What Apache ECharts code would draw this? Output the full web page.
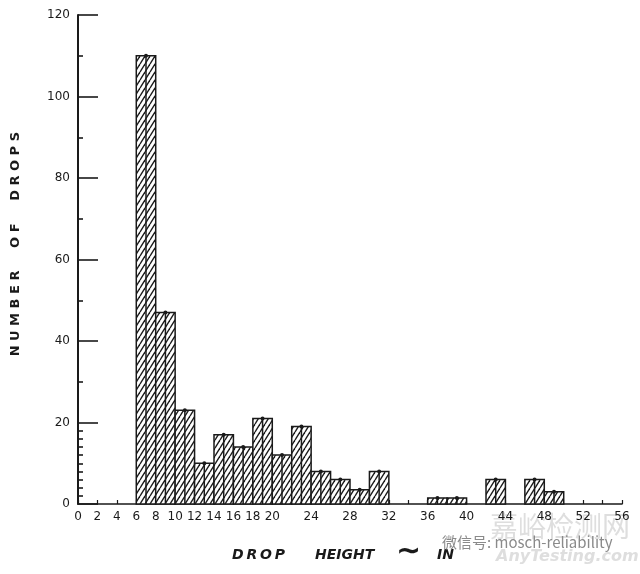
<!DOCTYPE html>
<html><head><meta charset="utf-8">
<script src="https://cdn.jsdelivr.net/npm/echarts@6/dist/echarts.min.js"></script>
<style>html,body{margin:0;padding:0;background:#fff}#c{width:640px;height:574px}</style>
</head><body><div id="c"></div>
<script>
// ---- data ----
const binStarts = [6, 8, 10, 12, 14, 16, 18, 20, 22, 24, 26, 28, 30, 36, 38, 42, 46, 48];
const binWidth = 2;
const dropCounts = [110, 47, 23, 10, 17, 14, 21, 12, 19, 8, 6, 3.5, 8, 1.5, 1.5, 6, 6, 3];
const xTickLabels = [0, 2, 4, 6, 8, 10, 12, 14, 16, 18, 20, 24, 28, 32, 36, 40, 44, 48, 52, 56];
const yMinorTicks = [2, 4, 6, 8, 10, 12, 14, 16, 18, 30, 50, 70, 90, 110];

function makePattern() {
  const W = 5, H = 8;
  const c = document.createElement('canvas');
  c.width = W; c.height = H;
  const g = c.getContext('2d');
  g.fillStyle = '#fff'; g.fillRect(0, 0, W, H);
  g.strokeStyle = '#1a1a1a'; g.lineWidth = 1.4;
  for (let k = -1; k <= 1; k++) {
    g.beginPath(); g.moveTo(k * W, H); g.lineTo(k * W + W, 0); g.stroke();
  }
  return c;
}
const pat = makePattern();
const barData = binStarts.map((s, i) => [s, s + binWidth, dropCounts[i]]);
const ink = '#1a1a1a';
const font = 'DejaVu Sans';

const chart = echarts.init(document.getElementById('c'), null, {renderer: 'canvas'});
chart.setOption({
  backgroundColor: '#fff',
  animation: false,
  grid: {left: 78, right: 18, top: 15, bottom: 70},
  xAxis: {
    type: 'value', min: 0, max: 56, interval: 2,
    axisLine: {show: true, lineStyle: {color: ink, width: 1.6}},
    axisTick: {show: true, inside: true, length: 4, lineStyle: {color: ink, width: 1.2}},
    axisLabel: {customValues: xTickLabels, color: ink, fontFamily: font, fontSize: 12, margin: 7},
    splitLine: {show: false}
  },
  yAxis: [{
    type: 'value', min: 0, max: 120, interval: 20,
    axisLine: {show: true, lineStyle: {color: ink, width: 2}},
    axisTick: {show: true, inside: true, length: 20, lineStyle: {color: ink, width: 1.6}},
    axisLabel: {color: ink, fontFamily: font, fontSize: 12, margin: 8},
    splitLine: {show: false}
  }, {
    type: 'value', min: 0, max: 120, position: 'left',
    axisLine: {show: false},
    axisTick: {show: true, inside: true, length: 5, customValues: yMinorTicks, lineStyle: {color: ink, width: 1.6}},
    axisLabel: {show: false},
    splitLine: {show: false}
  }],
  series: [{
    type: 'custom',
    data: barData,
    encode: {x: [0, 1], y: 2},
    renderItem: function (params, api) {
      const x0 = api.value(0), x1 = api.value(1), v = api.value(2);
      const p0 = api.coord([x0, 0]);
      const p1 = api.coord([x1, v]);
      const pm = api.coord([(x0 + x1) / 2, v]);
      return {
        type: 'group',
        children: [
          {type: 'rect', shape: {x: p0[0], y: p1[1], width: p1[0] - p0[0], height: p0[1] - p1[1]},
           style: {fill: {image: pat, repeat: 'repeat'}, stroke: ink, lineWidth: 1.5}},
          {type: 'line', shape: {x1: pm[0], y1: pm[1], x2: pm[0], y2: p0[1]},
           style: {stroke: ink, lineWidth: 1.5}},
          {type: 'circle', shape: {cx: pm[0], cy: pm[1], r: 2}, style: {fill: ink}}
        ]
      };
    }
  }],
  graphic: [
    {type: 'text', left: 9, top: 132, rotation: Math.PI / 2,
     style: {text: 'N U M B E R     O F     D R O P S', font: 'bold 13px "DejaVu Sans"', fill: ink}},
    {type: 'text', x: 232, y: 548,
     style: {text: 'D\u2009R\u2009O\u2009P', font: 'italic bold 14px "DejaVu Sans"', fill: ink}},
    {type: 'text', x: 315, y: 548,
     style: {text: 'HEIGHT', font: 'italic bold 14px "DejaVu Sans"', fill: ink}},
    {type: 'text', x: 396, y: 537,
     style: {text: '∼', font: 'bold 30px "DejaVu Sans"', fill: ink}},
    {type: 'text', x: 437, y: 548,
     style: {text: 'IN', font: 'italic bold 14px "DejaVu Sans"', fill: ink}},
    {type: 'text', x: 490, y: 512,
     style: {text: '嘉峪检测网', font: '28px "Noto Sans CJK SC"', fill: 'rgba(200,200,200,0.6)'}},
    {type: 'text', x: 496, y: 549,
     style: {text: 'AnyTesting.com', font: 'italic bold 16px "DejaVu Sans"', fill: 'rgba(200,200,200,0.6)'}},
    {type: 'text', x: 442, y: 535,
     style: {text: '微信号: mosch-reliability', font: '15px "Noto Sans CJK SC"', fill: '#8a8a8a'}}
  ]
});
</script>
</body></html>
